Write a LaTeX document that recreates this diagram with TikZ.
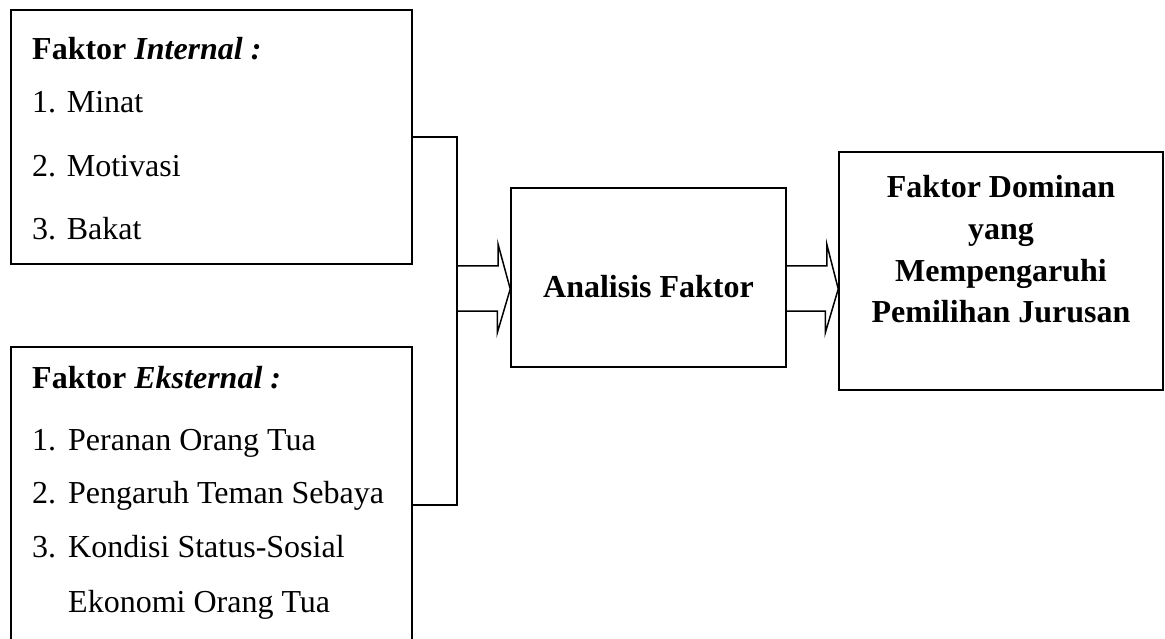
\documentclass[tikz,border=0pt]{standalone}
\usepackage{fontspec}
\setmainfont{Liberation Serif}
\usetikzlibrary{positioning}

\tikzset{
  box/.style={draw, line width=1.5pt, inner sep=0pt},
  item/.style={anchor=base west, inner sep=0pt, font=\fontsize{32}{38}\selectfont},
  head/.style={anchor=base, inner sep=0pt, font=\fontsize{32}{38}\selectfont\bfseries},
  link/.style={line width=1.5pt},
  blockarrow/.style={line width=1.5pt, line join=miter}
}

\begin{document}
\begin{tikzpicture}
  [x=1pt, y=-1pt]
  \useasboundingbox (0,0) rectangle (1165,639);

  % boxes
  \node[box, minimum width=401pt, minimum height=254pt] (internal) at (211.5,137) {};
  \node[box, minimum width=401pt, minimum height=316pt] (external) at (211.5,505) {};
  \node[box, minimum width=275pt, minimum height=179pt] (analysis) at (648.5,277.5) {};
  \node[box, minimum width=324pt, minimum height=238pt] (result) at (1001,271) {};

  % internal factors
  \node[item] (inhead) at (32,60) {\textbf{Faktor \textit{Internal :}}};
  \node[item] (in1) at (32,113) {1. Minat};
  \node[item] (in2) at (32,177) {2. Motivasi};
  \node[item] (in3) at (32,240) {3. Bakat};

  % external factors
  \node[item] (exhead) at (32,388) {\textbf{Faktor \textit{Eksternal :}}};
  \node[item] (ex1n) at (32,450) {1.};
  \node[item] (ex1) at (68,450) {Peranan Orang Tua};
  \node[item] (ex2n) at (32,503) {2.};
  \node[item] (ex2) at (68,503) {Pengaruh Teman Sebaya};
  \node[item] (ex3n) at (32,557) {3.};
  \node[item] (ex3) at (68,557) {Kondisi Status-Sosial};
  \node[item] (ex3b) at (68,612) {Ekonomi Orang Tua};

  \node[head] (antext) at (648.5,298) {Analisis Faktor};

  \node[head] (res1) at (1001,198) {Faktor Dominan};
  \node[head] (res2) at (1001,240) {yang};
  \node[head] (res3) at (1001,281) {Mempengaruhi};
  \node[head] (res4) at (1001,322) {Pemilihan Jurusan};

  % connectors
  \coordinate (spine) at (457,289);
  \draw[link] (internal.east) -| (spine);
  \draw[link] (external.east) -| (spine);

  \draw[blockarrow] (spine |- 0,266) -- ++(41,0) -- ++(0,-22)
    -- (analysis.west |- spine) -- ++(-13,44) -- ++(0,-22) -- (spine |- 0,311);
  \draw[blockarrow] (analysis.east |- 0,266) -- ++(40,0) -- ++(0,-22)
    -- (result.west |- spine) -- ++(-13,44) -- ++(0,-22) -- (analysis.east |- 0,311);
\end{tikzpicture}
\end{document}
